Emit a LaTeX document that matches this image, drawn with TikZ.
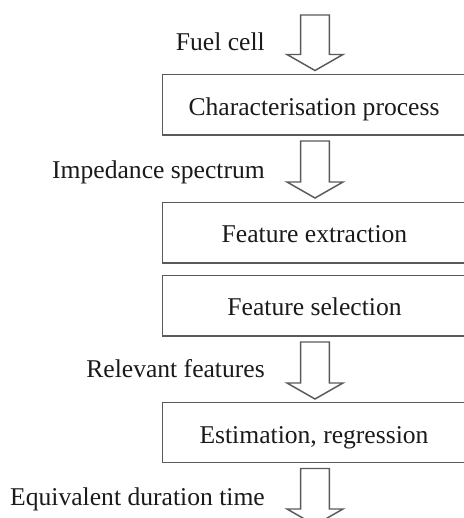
\documentclass[tikz,border=0pt]{standalone}
\usepackage{fontspec}
\setmainfont{Liberation Serif}
\definecolor{linegray}{HTML}{5A5A5A}
\definecolor{textblack}{HTML}{1A1A1A}
\newcommand\blockarrow[4]{% name, x center, top y, head y
  \coordinate (#1) at (#2,#3+16);
  \draw[arrowline] (#2-14.3,#3) -- (#2+14.3,#3) -- (#2+14.3,#4) -- (#2+28,#4)
    -- (#2,#4+16) -- (#2-28,#4) -- (#2-14.3,#4) -- cycle;}
\begin{document}
\begin{tikzpicture}[x=0.75pt,y=-0.75pt,
  boxline/.style={draw=linegray, line width=1.1pt},
  arrowline/.style={draw=linegray, fill=white, line width=1.1pt, line join=miter},
  lbl/.style={anchor=base east, font=\fontsize{19.2}{23}\selectfont, text=textblack, inner sep=0pt},
  btxt/.style={anchor=base, font=\fontsize{19.2}{23}\selectfont, text=textblack, inner sep=0pt}]
\useasboundingbox (0,0) rectangle (464,518);
\begin{scope}
\clip (0,0) rectangle (464,518);
% boxes
\draw[boxline] (162.5,74.5) rectangle (470,135);
\draw[boxline] (162.5,202.5) rectangle (470,263);
\draw[boxline] (162.5,275.5) rectangle (470,336);
\draw[boxline] (162.5,402.5) rectangle (470,462.5);
\node[btxt] (b1) at (314,115) {Characterisation process};
\node[btxt] (b2) at (314.5,242) {Feature extraction};
\node[btxt] (b3) at (314.5,315) {Feature selection};
\node[btxt] (b4) at (314,443) {Estimation, regression};
% block arrows
\blockarrow{a1}{315}{15}{54.5}
\blockarrow{a2}{315}{141}{182}
\blockarrow{a3}{315}{342}{383}
\blockarrow{a4}{315}{468.5}{509}
% labels
\node[lbl] (l1) at (265,50) {Fuel cell};
\node[lbl] (l2) at (265,178) {Impedance spectrum};
\node[lbl] (l3) at (265,377) {Relevant features};
\node[lbl] (l4) at (265,505) {Equivalent duration time};
\end{scope}
\end{tikzpicture}
\end{document}
